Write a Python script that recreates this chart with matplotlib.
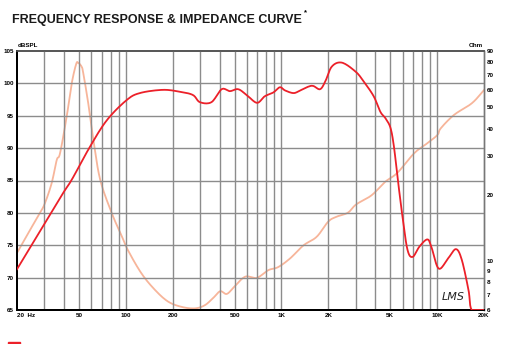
import numpy as np
import matplotlib
matplotlib.use("Agg")
import matplotlib.pyplot as plt

plt.rcParams['font.family'] = ['Liberation Sans', 'DejaVu Sans']

# frequency response (Hz, dBSPL)
spl_freq = [20, 37.8, 44.9, 58.8, 75.5, 101, 123, 173, 223, 270, 299, 355, 413, 466,
            527, 598, 696, 780, 887, 976, 1056, 1196, 1317, 1490, 1601, 1770, 1912,
            2106, 2446, 2997, 3373, 3914, 4320, 4660, 5020, 5280, 5560, 5990, 6450,
            6960, 7700, 8640, 9170, 10230, 11780, 13200, 14380, 15900, 16700, 20000]
spl_db = [71.3, 82.3, 85.1, 90.2, 94.3, 97.4, 98.5, 99.0, 98.7, 98.2, 97.1, 97.1, 99.1, 98.8,
          99.1, 98.2, 97.0, 98.0, 98.6, 99.4, 98.9, 98.5, 98.9, 99.5, 99.6, 99.1, 100.3,
          102.6, 103.2, 101.8, 100.3, 98.0, 95.6, 94.6, 93.1, 90.2, 85.6, 79.4, 74.3,
          73.2, 74.8, 75.9, 74.8, 71.4, 73.0, 74.4, 72.8, 68.1, 65.0, 65.0]

# impedance (Hz, Ohm)
imp_freq = [20, 23.6, 28.0, 30.2, 33.4, 36.0, 37.8, 41.7, 44.9, 48.0, 49.5, 52.0, 53.3,
            57.4, 61.9, 68.5, 81.3, 94.6, 103.3, 126, 154, 187, 228, 277, 321, 364, 404,
            446, 502, 585, 695, 823, 953, 1138, 1386, 1684, 1994, 2252, 2672, 3020, 3788,
            4630, 5560, 7120, 8640, 10040, 10550, 12870, 16700, 20000]
imp_ohm = [10.9, 13.4, 16.5, 18.3, 22.6, 28.8, 30.9, 45.3, 64.0, 78.6, 79.5, 76.4, 71.4,
           52.0, 35.5, 23.4, 16.5, 12.9, 11.2, 8.8, 7.4, 6.55, 6.2, 6.1, 6.3, 6.8, 7.3,
           7.1, 7.7, 8.5, 8.4, 9.1, 9.4, 10.3, 11.8, 12.9, 15.1, 15.9, 16.6, 18.1, 19.9,
           22.9, 25.2, 30.9, 34.3, 37.4, 40.1, 46.2, 52.1, 59.8]

x_ticks = [20, 50, 100, 200, 500, 1000, 2000, 5000, 10000, 20000]
x_labels = ['20  Hz', '50', '100', '200', '500', '1K', '2K', '5K', '10K', '20K']
db_ticks = [65, 70, 75, 80, 85, 90, 95, 100, 105]
ohm_ticks = [6, 7, 8, 9, 10, 20, 30, 40, 50, 60, 70, 80, 90]


def smooth(xs, ys, n=12, logy=False):
    # catmull-rom through the read points, in log-frequency space
    lx = np.log10(xs)
    y = np.log10(ys) if logy else np.asarray(ys, float)
    px = np.concatenate([[2*lx[0]-lx[1]], lx, [2*lx[-1]-lx[-2]]])
    py = np.concatenate([[2*y[0]-y[1]], y, [2*y[-1]-y[-2]]])
    ox, oy = [], []
    t = np.linspace(0, 1, n, endpoint=False)
    for i in range(1, len(px) - 2):
        for p, o in ((px, ox), (py, oy)):
            p0, p1, p2, p3 = p[i-1], p[i], p[i+1], p[i+2]
            o.extend(0.5*(2*p1 + (-p0+p2)*t + (2*p0-5*p1+4*p2-p3)*t**2
                          + (-p0+3*p1-3*p2+p3)*t**3))
    ox.append(lx[-1]); oy.append(y[-1])
    ox = 10**np.array(ox)
    oy = 10**np.array(oy) if logy else np.array(oy)
    return ox, oy


fig = plt.figure(figsize=(5.15, 3.44), dpi=100)
ax = fig.add_axes([17/515, 34/344, 467/515, 259/344])
ax2 = ax.twinx()

ax.set_xscale('log')
ax.set_xlim(20, 20000)
ax.set_ylim(65, 105)

grid_f = [f * d for d in [10, 100, 1000] for f in range(2, 11) if 20 < f * d < 20000]
for f in grid_f:
    ax.axvline(f, color='#8c8c8c', lw=1.0, zorder=0)
for d in db_ticks[1:-1]:
    ax.axhline(d, color='#8c8c8c', lw=1.0, zorder=0)

ax2.set_yscale('log')
ax2.set_ylim(6, 90)
ix, iy = smooth(imp_freq, imp_ohm, logy=True)
ax2.plot(ix, iy, color='#f7b59a', lw=1.3)

sx, sy = smooth(spl_freq, spl_db)
sy = np.clip(sy, 65, None)
ax.plot(sx, sy, color='#ec2029', lw=1.3, zorder=3)

ax.set_zorder(ax2.get_zorder() + 1)
ax.patch.set_visible(False)

ax.set_xticks(x_ticks)
ax.set_xticklabels(x_labels)
ax.xaxis.set_minor_locator(matplotlib.ticker.NullLocator())
ax.set_yticks(db_ticks)
ax.tick_params(length=0, labelsize=4.5, pad=2)
for t in ax.get_xticklabels() + ax.get_yticklabels():
    t.set_fontweight('bold')
ax.get_xticklabels()[0].set_horizontalalignment('left')

ax2.set_yticks(ohm_ticks)
ax2.set_yticklabels([str(v) for v in ohm_ticks])
ax2.yaxis.set_minor_locator(matplotlib.ticker.NullLocator())
ax2.tick_params(length=0, labelsize=4.5, pad=2)
for t in ax2.get_yticklabels():
    t.set_fontweight('bold')

for a in (ax, ax2):
    a.spines['left'].set_linewidth(1.4)
    a.spines['bottom'].set_linewidth(1.4)
    a.spines['top'].set_color('#555555')
    a.spines['top'].set_linewidth(1.2)
    a.spines['right'].set_color('#777777')
    a.spines['right'].set_linewidth(1.0)

fig.text(18/515, 1 - 48/344, 'dBSPL', fontsize=4.5, fontweight='bold', va='bottom')
fig.text(483/515, 1 - 48/344, 'Ohm', fontsize=4.5, fontweight='bold', va='bottom', ha='right')
fig.text(12/515, 1 - 20/344, 'FREQUENCY RESPONSE & IMPEDANCE CURVE', fontsize=9.0,
         fontweight='bold', va='center', color='#1a1a1a')
fig.text(304/515, 1 - 13/344, '*', fontsize=5.5, fontweight='bold', va='center')
ax.text(0.935, 0.03, 'LMS', transform=ax.transAxes, fontsize=8, style='italic',
        family='DejaVu Sans', fontweight='light', ha='center', va='bottom', color='#222222')
fig.patches.append(plt.Rectangle((8/515, 0), 12/515, 2/344, transform=fig.transFigure,
                                 color='#ec2029'))

fig.savefig('out.png', dpi=100)
